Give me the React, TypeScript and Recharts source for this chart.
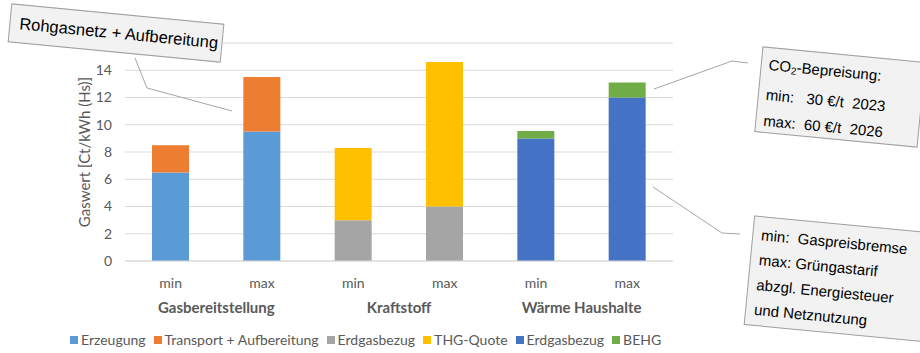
import React from "react";
import { BarChart, Bar, XAxis, YAxis, CartesianGrid } from "recharts";

const CATEGORIES = ["min", "max", "min", "max", "min", "max"];
const GROUPS = ["Gasbereitstellung", "Kraftstoff", "Wärme Haushalte"];
const Y_TICKS = [0, 2, 4, 6, 8, 10, 12, 14, 16];

// stacked components per category (null = not part of that group)
const ERZEUGUNG = [6.5, 9.5, null, null, null, null];
const TRANSPORT = [2.0, 4.0, null, null, null, null];
const ERDGAS_KRAFTSTOFF = [null, null, 3.0, 4.0, null, null];
const THG_QUOTE = [null, null, 5.3, 10.6, null, null];
const ERDGAS_WAERME = [null, null, null, null, 9.0, 12.0];
const BEHG = [null, null, null, null, 0.55, 1.1];

const SERIES = [
  { key: "erzeugung", name: "Erzeugung", color: "#5b9bd5", values: ERZEUGUNG },
  { key: "transport", name: "Transport + Aufbereitung", color: "#ed7d31", values: TRANSPORT },
  { key: "erdgasK", name: "Erdgasbezug", color: "#a5a5a5", values: ERDGAS_KRAFTSTOFF },
  { key: "thg", name: "THG-Quote", color: "#ffc000", values: THG_QUOTE },
  { key: "erdgasW", name: "Erdgasbezug", color: "#4472c4", values: ERDGAS_WAERME },
  { key: "behg", name: "BEHG", color: "#70ad47", values: BEHG },
];

const data = CATEGORIES.map((label, i) => {
  const row: Record<string, string | number | null> = { label, pos: i };
  SERIES.forEach((s) => (row[s.key] = s.values[i]));
  return row;
});

const FONT = "Lato, 'Noto Sans', sans-serif";
const TEXT = "#595959";
const NOTE_FONT = "'Liberation Sans', Arial, sans-serif";

const noteBox: React.CSSProperties = {
  position: "absolute",
  background: "#f2f2f2",
  border: "1px solid #a0a0a0",
  boxSizing: "border-box",
  fontFamily: NOTE_FONT,
  color: "#000",
  transform: "translate(-50%, -50%) rotate(5.5deg)",
};

export default function App() {
  return (
    <div
      style={{
        position: "fixed",
        left: 0,
        top: 0,
        width: 920,
        height: 353,
        overflow: "hidden",
        background: "#fff",
      }}
    >
      <BarChart
        width={920}
        height={353}
        data={data}
        barSize={37}
        margin={{ top: 43, right: 247, left: 0, bottom: 36 }}
      >
        <CartesianGrid vertical={false} stroke="#d9d9d9" />
        <XAxis
          xAxisId="cat"
          dataKey="label"
          tickLine={false}
          axisLine={{ stroke: "#d9d9d9" }}
          tick={{ fill: TEXT, fontSize: 14, fontFamily: FONT }}
          tickMargin={11}
          height={26}
        />
        <XAxis
          xAxisId="grp"
          type="number"
          dataKey="pos"
          domain={[0, 6]}
          ticks={[1, 3, 5]}
          tickFormatter={(v: number) => GROUPS[(v - 1) / 2]}
          tickLine={false}
          axisLine={false}
          tickMargin={9}
          tick={{ fill: TEXT, fontSize: 15, fontWeight: "bold", fontFamily: FONT }}
          height={30}
        />
        <YAxis
          domain={[0, 16]}
          ticks={Y_TICKS}
          width={125}
          tickLine={false}
          axisLine={false}
          tickMargin={7}
          tick={{ fill: TEXT, fontSize: 14, fontFamily: FONT }}
          label={{
            value: "Gaswert [Ct/kWh (Hs)]",
            angle: -90,
            position: "center",
            dx: 22,
            fill: TEXT,
            fontSize: 15,
            fontFamily: FONT,
          }}
        />
        {SERIES.map((s) => (
          <Bar
            key={s.key}
            xAxisId="cat"
            dataKey={s.key}
            name={s.name}
            stackId="a"
            fill={s.color}
            isAnimationActive={false}
          />
        ))}
      </BarChart>

      {/* legend row under the group labels */}
      <div
        style={{
          position: "absolute",
          left: 70,
          top: 331,
          display: "flex",
          gap: 8,
          fontFamily: FONT,
          fontSize: 14,
          color: TEXT,
          whiteSpace: "nowrap",
        }}
      >
        {SERIES.map((s) => (
          <span key={s.key} style={{ display: "flex", alignItems: "center" }}>
            <span
              style={{ width: 8, height: 8, background: s.color, marginRight: 3, display: "inline-block" }}
            />
            {s.name}
          </span>
        ))}
      </div>

      {/* leader lines for the callouts */}
      <svg
        width={920}
        height={353}
        style={{ position: "absolute", left: 0, top: 0, pointerEvents: "none" }}
      >
        <polyline points="135,58 147,88 232,111" fill="none" stroke="#a6a6a6" strokeWidth={1} />
        <polyline points="748,63 732,61 654,89" fill="none" stroke="#a6a6a6" strokeWidth={1} />
        <polyline points="740,234 722,233 653,187" fill="none" stroke="#a6a6a6" strokeWidth={1} />
      </svg>

      <div
        style={{
          ...noteBox,
          left: 116,
          top: 33,
          width: 214,
          height: 39,
          fontSize: 16.5,
          lineHeight: "37px",
          paddingLeft: 9,
        }}
      >
        Rohgasnetz + Aufbereitung
      </div>

      <div
        style={{
          ...noteBox,
          left: 840,
          top: 97,
          width: 164,
          height: 86,
          fontSize: 15,
          lineHeight: "26px",
          padding: "4px 0 0 7px",
          whiteSpace: "pre",
        }}
      >
        <div>
          CO<sub style={{ fontSize: 10, verticalAlign: "-2px" }}>2</sub>-Bepreisung:
        </div>
        <div>{"min:   30 €/t  2023"}</div>
        <div>{"max:  60 €/t  2026"}</div>
      </div>

      <div
        style={{
          ...noteBox,
          left: 841,
          top: 279,
          width: 185,
          height: 110,
          fontSize: 15,
          lineHeight: "25px",
          padding: "5px 0 0 8px",
          whiteSpace: "pre",
        }}
      >
        <div>{"min:  Gaspreisbremse"}</div>
        <div>{"max: Grüngastarif"}</div>
        <div>abzgl. Energiesteuer</div>
        <div>und Netznutzung</div>
      </div>
    </div>
  );
}
